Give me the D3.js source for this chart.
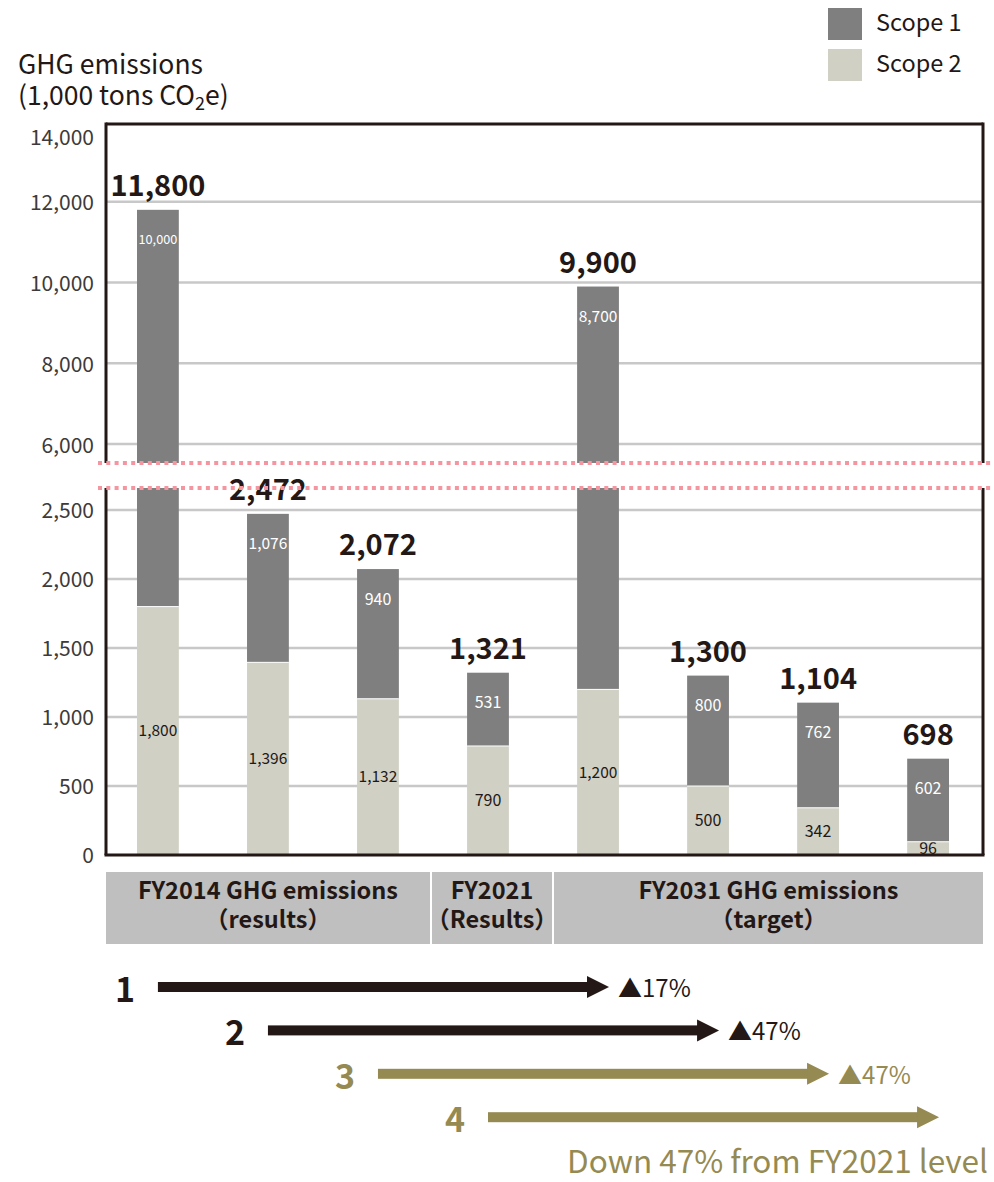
<!DOCTYPE html>
<html>
<head>
<meta charset="utf-8">
<script src="https://cdn.jsdelivr.net/npm/d3@7"></script>
<style>
  body { margin: 0; background: #fff; }
  svg { display: block; }
  text { font-family: "Noto Sans CJK JP", "Noto Sans", sans-serif; }
</style>
</head>
<body>
<svg id="chart" width="994" height="1182"></svg>
<script>
// ---- data ----
const bars    = ["1 FY2014", "2 FY2014", "3 FY2014", "4 FY2021", "1 FY2031", "2 FY2031", "3 FY2031", "4 FY2031"];
const scope1  = [10000, 1076, 940, 531, 8700, 800, 762, 602];
const scope2  = [1800, 1396, 1132, 790, 1200, 500, 342, 96];
const totals  = [11800, 2472, 2072, 1321, 9900, 1300, 1104, 698];

const upperTicks = [6000, 8000, 10000, 12000, 14000];
const lowerTicks = [0, 500, 1000, 1500, 2000, 2500];

const groupLabels = [["FY2014 GHG emissions", "（results）"], ["FY2021", "（Results）"], ["FY2031 GHG emissions", "（target）"]];

const scenarioIds    = ["1", "2", "3", "4"];
const scenarioFrom   = ["1 FY2014", "2 FY2014", "3 FY2014", "4 FY2021"];
const scenarioTo     = ["1 FY2031", "2 FY2031", "3 FY2031", "4 FY2031"];
const scenarioLabels = ["▲17%", "▲47%", "▲47%", ""];
const scenarioNote   = "Down 47% from FY2021 level";

const seriesNames = ["Scope 1", "Scope 2"];

// ---- styles ----
const C1 = "#7f7f7f", C2 = "#d0d0c5", INK = "#231815", OLIVE = "#958a52";
const GRID = "#c8c8c8", TICK = "#3e3a39", BREAK = "#f5959f", BOX = "#bfbfbf";

const svg = d3.select("#chart");
const F = { l: 106, r: 983, t: 124, b: 855, gapTop: 463, gapBot: 488 };

const x  = d3.scaleBand().domain(bars).range([104, 982]).paddingInner(0.62).paddingOuter(0.3);
const yU = d3.scaleLinear().domain([6000, 14000]).range([444, 121]);
const yL = d3.scaleLinear().domain([0, 2500]).range([855, 510]);
const upMin  = yU.invert(F.gapTop);
const lowMax = yL.invert(F.gapBot);
const cx = id => x(id) + x.bandwidth() / 2;

// ---- gridlines ----
const grid = svg.append("g");
grid.selectAll(".gu").data(upperTicks.filter(v => v < 14000)).join("line")
  .attr("x1", F.l).attr("x2", F.r).attr("y1", d => yU(d)).attr("y2", d => yU(d))
  .attr("stroke", GRID).attr("stroke-width", 2.5);
grid.selectAll(".gl").data(lowerTicks.filter(v => v > 0)).join("line")
  .attr("x1", F.l).attr("x2", F.r).attr("y1", d => yL(d)).attr("y2", d => yL(d))
  .attr("stroke", GRID).attr("stroke-width", 2.5);

// ---- stacked bars split across the broken axis ----
const segs = [];
bars.forEach((id, i) => {
  segs.push({ id, v0: 0, v1: scope2[i], val: scope2[i], fill: C2, txt: INK, top: false });
  segs.push({ id, v0: scope2[i], v1: scope2[i] + scope1[i], val: scope1[i], fill: C1, txt: "#ffffff", top: true });
});

const barG = svg.append("g");
segs.forEach(s => {
  const pieces = [];
  if (s.v0 < lowMax) pieces.push({ y0: yL(Math.min(s.v1, lowMax)), y1: yL(s.v0) });
  if (s.v1 > upMin) pieces.push({ y0: yU(s.v1), y1: yU(Math.max(s.v0, upMin)) });
  pieces.forEach(p => {
    barG.append("rect")
      .attr("x", x(s.id)).attr("width", x.bandwidth())
      .attr("y", p.y0).attr("height", p.y1 - p.y0)
      .attr("fill", s.fill);
  });
  const vis = pieces[pieces.length - 1];
  const mid = (vis.y0 + vis.y1) / 2;
  const ly = s.top ? Math.min(vis.y0 + 30, mid) : mid;
  const t = barG.append("text")
    .attr("x", cx(s.id)).attr("y", ly).attr("dy", "0.36em")
    .attr("text-anchor", "middle").attr("font-size", 16)
    .attr("fill", s.txt).text(d3.format(",")(s.val));
  // shrink labels that would overflow the bar
  const w = t.node().getComputedTextLength();
  const maxW = x.bandwidth() - 3;
  if (w > maxW) t.attr("font-size", 16 * maxW / w);
});

// thin white separator between stacked segments
bars.forEach((id, i) => {
  if (scope2[i] < lowMax) {
    barG.append("line").attr("x1", x(id)).attr("x2", x(id) + x.bandwidth())
      .attr("y1", yL(scope2[i])).attr("y2", yL(scope2[i]))
      .attr("stroke", "#fff").attr("stroke-width", 1);
  }
});

// totals
bars.forEach((id, i) => {
  const t = totals[i];
  const yTop = t > upMin ? yU(t) : yL(t);
  svg.append("text")
    .attr("x", cx(id)).attr("y", yTop - 14)
    .attr("text-anchor", "middle").attr("font-size", 29).attr("font-weight", 700)
    .attr("fill", INK).text(d3.format(",")(t));
});

// ---- frame with a gap at the break ----
const frame = svg.append("g").attr("stroke", INK).attr("stroke-width", 3).attr("fill", "none");
frame.append("line").attr("x1", F.l).attr("x2", F.r).attr("y1", F.t).attr("y2", F.t);
frame.append("line").attr("x1", F.l - 1.5).attr("x2", F.r + 1.5).attr("y1", F.b).attr("y2", F.b);
[F.l, F.r].forEach(xx => {
  frame.append("line").attr("x1", xx).attr("x2", xx).attr("y1", F.t - 1.5).attr("y2", F.gapTop);
  frame.append("line").attr("x1", xx).attr("x2", xx).attr("y1", F.gapBot).attr("y2", F.b);
});

// break markers
[F.gapTop, F.gapBot].forEach(yy => {
  svg.append("line").attr("x1", 98).attr("x2", 994).attr("y1", yy).attr("y2", yy)
    .attr("stroke", BREAK).attr("stroke-width", 4).attr("stroke-dasharray", "4 4.3");
});

// ---- axes ----
function styleAxis(g) {
  g.select(".domain").remove();
  g.selectAll("line").remove();
  g.selectAll("text").attr("font-size", 21).attr("fill", TICK)
    .attr("font-family", "'Noto Sans CJK JP', 'Noto Sans', sans-serif");
}
svg.append("g").attr("transform", `translate(${F.l},0)`)
  .call(d3.axisLeft(yU).tickValues(upperTicks).tickSize(0).tickPadding(12).tickFormat(d3.format(",")))
  .call(styleAxis)
  .selectAll(".tick").attr("transform", d => `translate(0,${Math.max(yU(d), F.t + 12) + 2})`);
svg.append("g").attr("transform", `translate(${F.l},0)`)
  .call(d3.axisLeft(yL).tickValues(lowerTicks).tickSize(0).tickPadding(12).tickFormat(d3.format(",")))
  .call(styleAxis)
  .selectAll(".tick").attr("transform", d => `translate(0,${yL(d) + 1})`);

// axis title
const title = svg.append("text").attr("x", 18).attr("font-size", 26.5).attr("fill", INK);
title.append("tspan").attr("x", 18).attr("y", 74).text("GHG emissions");
title.append("tspan").attr("x", 18).attr("y", 105).text("(1,000 tons CO");
title.append("tspan").attr("dy", 5).attr("font-size", 18).text("2");
title.append("tspan").attr("dy", -5).text("e)");

// ---- legend ----
const legend = svg.append("g");
[C1, C2].forEach((c, i) => {
  legend.append("rect").attr("x", 828).attr("y", 8 + i * 41).attr("width", 34).attr("height", 32).attr("fill", c);
  legend.append("text").attr("x", 876).attr("y", 31 + i * 41).attr("font-size", 23.5)
    .attr("fill", INK).text(seriesNames[i]);
});

// ---- category boxes ----
const boxEdges = [[F.l, 430], [432, 552], [554, F.r]];
groupLabels.forEach((lines, i) => {
  const [a, b] = boxEdges[i];
  svg.append("rect").attr("x", a).attr("y", 872).attr("width", b - a).attr("height", 72).attr("fill", BOX);
  const t = svg.append("text").attr("text-anchor", "middle").attr("font-size", 23.5)
    .attr("font-weight", 700).attr("fill", INK);
  lines.forEach((ln, k) => {
    t.append("tspan").attr("x", (a + b) / 2).attr("y", 899 + k * 29).text(ln);
  });
});

// ---- reduction arrows ----
scenarioIds.forEach((n, i) => {
  const col = i < 2 ? INK : OLIVE;
  const y = 987 + i * 43.4;
  const x0 = cx(scenarioFrom[i]);
  const tip = cx(scenarioTo[i]) + 11;
  const head = 22, half = 11;
  svg.append("rect").attr("x", x0).attr("y", y - 5).attr("width", tip - head + 1 - x0).attr("height", 10).attr("fill", col);
  svg.append("path")
    .attr("d", `M${tip - head},${y - half}L${tip},${y}L${tip - head},${y + half}Z`)
    .attr("fill", col);
  svg.append("text").attr("x", x0 - 33).attr("y", y + 15)
    .attr("text-anchor", "middle").attr("font-size", 34).attr("font-weight", 700)
    .attr("fill", col).text(n);
  if (scenarioLabels[i]) {
    svg.append("text").attr("x", tip + 9).attr("y", y + 10)
      .attr("font-size", 24).attr("fill", col).text(scenarioLabels[i]);
  }
});
svg.append("text").attr("x", 988).attr("y", 1173).attr("text-anchor", "end")
  .attr("font-size", 31.5).attr("fill", OLIVE).text(scenarioNote);
</script>
</body>
</html>
